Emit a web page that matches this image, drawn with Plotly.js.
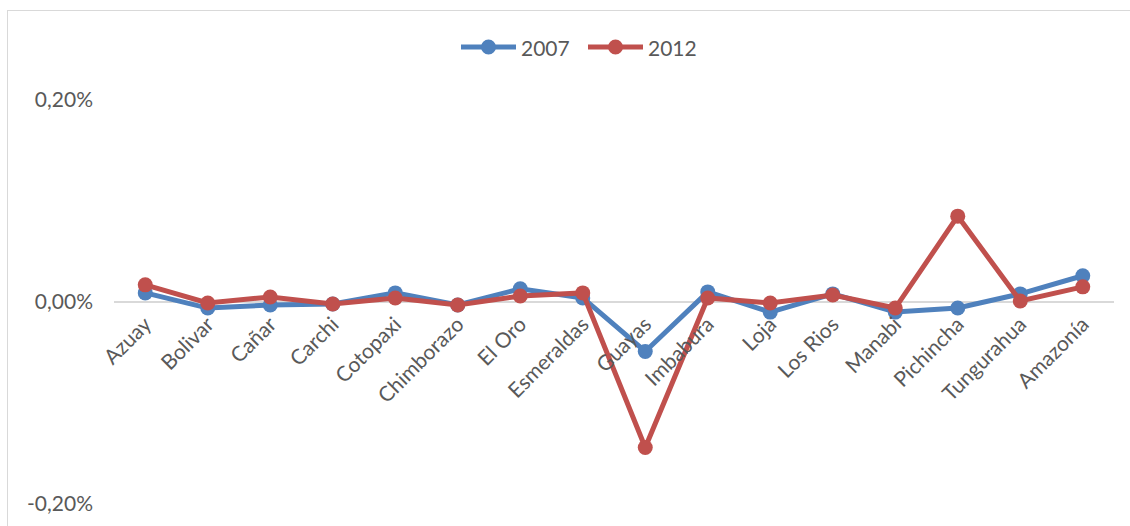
<!DOCTYPE html>
<html>
<head>
<meta charset="utf-8">
<script src="https://cdn.plot.ly/plotly-3.0.1.min.js"></script>
<style>
  html, body { margin: 0; padding: 0; background: #fff; overflow: hidden; }
  #frame { position: absolute; left: 7px; top: 10px; width: 1130px; height: 530px;
           border-left: 1px solid #d9d9d9; border-top: 1px solid #d9d9d9; }
  #chart { position: absolute; left: 0; top: 0; width: 1130px; height: 526px; }
</style>
</head>
<body>
<div id="frame"></div>
<div id="chart"></div>
<script>
// Provinces (categories) and yearly variation, in percent
const provinces = ["Azuay", "Bolivar", "Cañar", "Carchi", "Cotopaxi", "Chimborazo", "El Oro",
  "Esmeraldas", "Guayas", "Imbabura", "Loja", "Los Rios", "Manabi", "Pichincha",
  "Tungurahua", "Amazonía"];
const values2007 = [0.009, -0.006, -0.003, -0.002, 0.009, -0.003, 0.013, 0.004, -0.049,
  0.010, -0.010, 0.008, -0.010, -0.006, 0.008, 0.026];
const values2012 = [0.017, -0.001, 0.005, -0.002, 0.004, -0.003, 0.006, 0.009, -0.144,
  0.004, -0.001, 0.007, -0.006, 0.085, 0.001, 0.015];
const seriesNames = ["2007", "2012"];
const seriesColors = ["#4f81bd", "#c0504d"];
const yTicks = [-0.2, 0, 0.2];
// "0,20%" style labels with a plain hyphen for negatives
const yTickText = yTicks.map(v => (v < 0 ? "-" : "") + Math.abs(v).toFixed(2).replace(".", ",") + "%");

const font = "Lato, 'Open Sans', sans-serif";
const textColor = "#595959";

const W = 1130, H = 526;
const margin = { l: 114, r: 16, t: 100, b: 22 };
const plotW = W - margin.l - margin.r, plotH = H - margin.t - margin.b;
// pixel -> paper helpers for the legend built from shapes
const px = v => (v - margin.l) / plotW;
const py = v => (H - margin.b - v) / plotH;

const traces = [values2007, values2012].map((vals, i) => ({
  name: seriesNames[i], x: provinces, y: vals, type: "scatter", mode: "lines+markers",
  line: { color: seriesColors[i], width: 5 }, marker: { color: seriesColors[i], size: 15 },
  showlegend: false
}));

// Centered legend row above the plot: line sample, dot, label
const shapes = [], annotations = [];
const legendStarts = [461, 588];
legendStarts.forEach((x0, i) => {
  const yc = 47;
  shapes.push({ type: "line", xref: "paper", yref: "paper", x0: px(x0), x1: px(x0 + 55),
    y0: py(yc), y1: py(yc), line: { color: seriesColors[i], width: 5 } });
  shapes.push({ type: "circle", xref: "paper", yref: "paper",
    x0: px(x0 + 20), x1: px(x0 + 35), y0: py(yc - 7.5), y1: py(yc + 7.5),
    fillcolor: seriesColors[i], line: { width: 0 } });
  annotations.push({ xref: "paper", yref: "paper", x: px(x0 + 58), y: py(yc),
    xanchor: "left", yanchor: "middle", showarrow: false, text: seriesNames[i],
    font: { family: font, size: 21, color: textColor } });
});

const layout = {
  width: W, height: H, margin,
  paper_bgcolor: "rgba(0,0,0,0)", plot_bgcolor: "rgba(0,0,0,0)",
  font: { family: font, size: 21, color: textColor },
  showlegend: false,
  shapes, annotations,
  xaxis: { type: "category", range: [-0.5, provinces.length - 0.5], anchor: "free",
           position: 0.5, showgrid: false, zeroline: false, showline: false, ticks: "",
           tickangle: -45, ticklabelstandoff: 5,
           tickfont: { size: 21, color: textColor }, fixedrange: true },
  yaxis: { range: [-0.2, 0.2], tickmode: "array", tickvals: yTicks, ticktext: yTickText,
           showgrid: true, gridcolor: "#d9d9d9", gridwidth: 1.5, zeroline: false,
           showline: false, ticks: "", ticklabelstandoff: 20,
           tickfont: { size: 21, color: textColor }, fixedrange: true }
};

Plotly.newPlot("chart", traces, layout, { displayModeBar: false, staticPlot: true });
</script>
</body>
</html>
